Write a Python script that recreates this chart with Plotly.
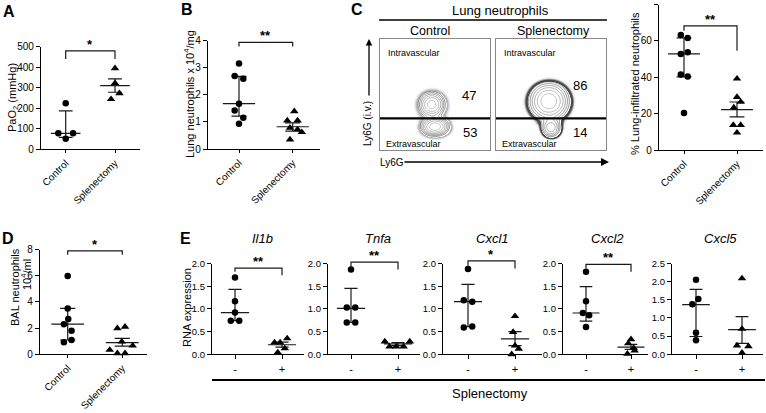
import numpy as np
import plotly.graph_objects as go

W, H = 766, 413
FONT = "Liberation Sans, Arial, sans-serif"

# ---------------- DATA ----------------
groups = ["Control", "Splenectomy"]

# Panel A: PaO2 (mmHg)
A_ctrl = [224, 78, 78, 52]
A_spl = [395, 322, 273, 244]
A_ctrl_stat = [78, 58, 187]      # centre, lower, upper
A_spl_stat = [310, 278, 343]

# Panel B: lung neutrophils x 10^4/mg
B_ctrl = [3.15, 2.69, 2.59, 1.67, 1.42, 1.15, 0.93]
B_spl = [1.39, 1.05, 1.05, 0.78, 0.72, 0.62, 0.35]
B_ctrl_stat = [1.67, 1.21, 2.68]
B_spl_stat = [0.82, 0.66, 0.96]

# Panel C (right): % lung-infiltrated neutrophils
C_ctrl = [63.2, 61.6, 52.8, 53.7, 41.5, 40.4, 20.4]
C_spl = [39.2, 29.1, 26.4, 23.3, 13.7, 13.7, 9.5]
C_ctrl_stat = [52.8, 40.2, 61.6]
C_spl_stat = [22.2, 18.2, 26.4]

# Panel C (flow): gate percentages
flow_ctrl_pct = ["47", "53"]
flow_spl_pct = ["86", "14"]

# Panel D: BAL neutrophils 10^4/ml
D_ctrl = [5.98, 3.5, 2.7, 2.3, 1.8, 0.92, 1.09]
D_spl = [1.98, 2.1, 0.96, 0.66, 0.33, 0.08, 0.08]
D_ctrl_stat = [2.31, 1.09, 3.5]
D_spl_stat = [0.89, 0.63, 1.22]

# Panel E: RNA expression
genes = ["Il1b", "Tnfa", "Cxcl1", "Cxcl2", "Cxcl5"]
E_ctrl = {
    "Il1b": [1.69, 1.17, 0.92, 0.74, 0.74],
    "Tnfa": [1.87, 1.03, 1.03, 0.70, 0.70],
    "Cxcl1": [1.88, 1.19, 1.16, 0.59, 0.61],
    "Cxcl2": [1.82, 1.17, 0.91, 0.86, 0.60],
    "Cxcl5": [2.05, 1.52, 1.38, 0.59, 0.39],
}
E_spl = {
    "Il1b": [0.26, 0.26, 0.35, 0.13, 0.04],
    "Tnfa": [0.28, 0.28, 0.17, 0.17, 0.17],
    "Cxcl1": [0.84, 0.49, 0.19, 0.12, 0.00],
    "Cxcl2": [0.33, 0.24, 0.08, 0.01, 0.14],
    "Cxcl5": [2.09, 0.70, 0.24, 0.22, 0.04],
}
E_ctrl_stat = {
    "Il1b": [0.92, 0.74, 1.43],
    "Tnfa": [1.01, 0.70, 1.45],
    "Cxcl1": [1.16, 0.61, 1.54],
    "Cxcl2": [0.91, 0.73, 1.49],
    "Cxcl5": [1.37, 0.49, 1.79],
}
E_spl_stat = {
    "Il1b": [0.21, 0.16, 0.27],
    "Tnfa": [0.23, 0.19, 0.26],
    "Cxcl1": [0.34, 0.19, 0.50],
    "Cxcl2": [0.16, 0.11, 0.22],
    "Cxcl5": [0.68, 0.30, 1.04],
}
E_xlabels = ["-", "+"]

# ---------------- LAYOUT HELPERS ----------------
def xd(a, b):
    return [a / W, b / W]


def yd(top, bot):
    return [1 - bot / H, 1 - top / H]


def pann(text, x, y, size=11, angle=0, bold=False, italic=False, xanchor="center", yanchor="middle"):
    t = text
    if bold:
        t = "<b>" + t + "</b>"
    if italic:
        t = "<i>" + t + "</i>"
    return dict(text=t, x=x / W, y=1 - y / H, xref="paper", yref="paper", showarrow=False,
                textangle=angle, xanchor=xanchor, yanchor=yanchor,
                font=dict(family=FONT, size=size, color="black"))


fig = go.Figure()
layout = {}
annotations = []
shapes = []
LINE = "#1a1a1a"

# jitter (style) for points
jit = {
    "A": ([0, -0.15, 0.15, 0], [0, 0, 0.09, -0.08]),
    "B": ([0, -0.08, 0.08, 0, -0.08, 0.08, 0], [0.03, -0.1, 0.09, -0.05, 0.09, 0.17, -0.05]),
    "C": ([-0.06, 0.07, -0.06, 0.07, -0.06, 0.07, 0], [0, 0, 0.07, -0.06, -0.07, 0.07, 0]),
    "D": ([0, 0, 0.01, -0.07, 0.07, -0.07, 0.07], [-0.09, 0.05, -0.01, 0.19, -0.23, -0.09, 0.05]),
    "Il1b": ([0, 0, 0, -0.09, 0.09], [-0.16, -0.04, 0.11, 0.06, -0.09]),
    "Tnfa": ([0, -0.09, 0.09, -0.09, 0.09], [-0.28, 0.25, -0.18, -0.04, 0.12]),
    "Cxcl1": ([0, -0.09, 0.09, -0.09, 0.09], [0, -0.04, 0, 0.08, -0.07]),
    "Cxcl2": ([0, 0, -0.07, 0.07, 0], [0, -0.06, 0.08, -0.08, 0.06]),
    "Cxcl5": ([0, 0.05, -0.08, 0, 0], [0, 0, -0.11, 0.14, 0]),
}

panels = [
    dict(key="A", left=41, c0=65.7, c1=115, right=140, top=46.7, bot=149.3, yr=[0, 500],
         tv=[0, 100, 200, 300, 400, 500], tt=None, ctrl=A_ctrl, spl=A_spl,
         cs=A_ctrl_stat, ss=A_spl_stat, br=(440, 480, 480, 440), star="*",
         xt=groups, angle=-45),
    dict(key="B", left=208, c0=239, c1=292.7, right=320, top=40.5, bot=149, yr=[0, 4],
         tv=[0, 1, 2, 3, 4], tt=None, ctrl=B_ctrl, spl=B_spl,
         cs=B_ctrl_stat, ss=B_spl_stat, br=(3.78, 3.93, 3.93, 3.78), star="**",
         xt=groups, angle=-45),
    dict(key="C", left=659, c0=684, c1=737, right=763, top=4.5, bot=150, yr=[0, 80],
         tv=[0, 20, 40, 60, 80], tt=None, ctrl=C_ctrl, spl=C_spl,
         cs=C_ctrl_stat, ss=C_spl_stat, br=(65.6, 68.3, 68.3, 54.6), star="**",
         xt=groups, angle=-45),
    dict(key="D", left=40, c0=67.7, c1=122.3, right=147, top=249.5, bot=354.3, yr=[0, 8],
         tv=[0, 2, 4, 6, 8], tt=None, ctrl=D_ctrl, spl=D_spl,
         cs=D_ctrl_stat, ss=D_spl_stat, br=(7.6, 7.9, 7.9, 7.6), star="*",
         xt=groups, angle=-45),
]

E_geo = {
    "Il1b": (212, 235, 282, 304, (1.82, 1.90, 1.90, 1.74), "**"),
    "Tnfa": (328, 351, 398, 420, (1.92, 2.03, 2.03, 1.87), "**"),
    "Cxcl1": (443, 468, 515, 542, (1.95, 2.06, 2.06, 1.89), "*"),
    "Cxcl2": (563, 586, 631, 648, (1.89, 1.98, 1.98, 1.82), "**"),
    "Cxcl5": (672, 696, 742, 763, None, None),
}
for g in genes:
    left, c0, c1, right, br, star = E_geo[g]
    if g == "Cxcl5":
        yr, tv = [0, 2.5], [0, 0.5, 1.0, 1.5, 2.0, 2.5]
    else:
        yr, tv = [0, 2.0], [0, 0.5, 1.0, 1.5, 2.0]
    panels.append(dict(key=g, left=left, c0=c0, c1=c1, right=right, top=263.5, bot=354.3,
                       yr=yr, tv=tv, tt=["%.1f" % v for v in tv], ctrl=E_ctrl[g], spl=E_spl[g],
                       cs=E_ctrl_stat[g], ss=E_spl_stat[g], br=br, star=star,
                       xt=E_xlabels, angle=0, gene=True))

for i, p in enumerate(panels, start=1):
    xa = "x" if i == 1 else "x%d" % i
    ya = "y" if i == 1 else "y%d" % i
    span = p["c1"] - p["c0"]
    xr = [(p["left"] - p["c0"]) / span, (p["right"] - p["c0"]) / span]
    gene = p.get("gene", False)
    tfs = 9.5 if gene else 10
    xdict = dict(
        domain=xd(p["left"], p["right"]), range=xr, anchor=ya, automargin=False,
        showline=True, linecolor="black", linewidth=1.3, showgrid=False, zeroline=False,
        ticks="outside", ticklen=4 if gene else 3, tickwidth=1.2, tickcolor="black",
        tickvals=[0, 1], ticktext=p["xt"], tickangle=p["angle"],
        tickfont=dict(family=FONT, size=11 if gene else 10, color="black"), fixedrange=True)
    layout["xaxis" if i == 1 else "xaxis%d" % i] = xdict
    ydict = dict(
        domain=yd(p["top"], p["bot"]), range=p["yr"], anchor=xa, automargin=False,
        showline=True, linecolor="black", linewidth=1.3, showgrid=False, zeroline=False,
        ticks="outside", ticklen=4, tickwidth=1.2, tickcolor="black",
        tickvals=p["tv"], tickfont=dict(family=FONT, size=tfs, color="black"), fixedrange=True)
    if p["tt"] is not None:
        ydict["ticktext"] = p["tt"]
    layout["yaxis" if i == 1 else "yaxis%d" % i] = ydict

    jc, js = jit[p["key"]]
    for gi, vals, jj, sym, stat in ((0, p["ctrl"], jc, "circle", p["cs"]),
                                    (1, p["spl"], js, "triangle-up", p["ss"])):
        c, lo, up = stat
        fig.add_trace(go.Scatter(
            x=[gi - 0.3, gi + 0.3, None, gi - 0.14, gi + 0.14, None, gi, gi, None, gi - 0.14, gi + 0.14],
            y=[c, c, None, up, up, None, lo, up, None, lo, lo],
            mode="lines", line=dict(color=LINE, width=1.2), xaxis=xa, yaxis=ya,
            hoverinfo="skip", showlegend=False, cliponaxis=False))
        fig.add_trace(go.Scatter(
            x=[gi + d for d in jj], y=vals, mode="markers",
            marker=dict(symbol=sym, size=6.5 if sym == "circle" else 7.5, color="black",
                        line=dict(width=0)),
            xaxis=xa, yaxis=ya, showlegend=False, cliponaxis=False))
    if p["br"] is not None:
        # significance bracket, placed on the y-axis domain scale so it may rise above the axis top
        b = [v / p["yr"][1] for v in p["br"]]
        shapes.append(dict(type="path", xref=xa, yref=ya + " domain",
                           path="M 0,%f L 0,%f L 1,%f L 1,%f" % (b[0], b[1], b[2], b[3]),
                           line=dict(color=LINE, width=1.2)))
        annotations.append(dict(text="<b>" + p["star"] + "</b>", x=0.5, y=b[1], xref=xa,
                                yref=ya + " domain", showarrow=False, yanchor="bottom", yshift=-3,
                                font=dict(family=FONT, size=13, color="black")))

# ---------------- FLOW CYTOMETRY PANELS ----------------
gate_y = 0.285
ctrl_blobs = [(0.47, 0.41, 0.057, 0.055, 1.0), (0.50, 0.21, 0.060, 0.040, 1.15),
              (0.47, 0.36, 0.15, 0.20, 0.03)]
spl_blobs = [(0.48, 0.44, 0.085, 0.080, 1.0), (0.50, 0.20, 0.045, 0.045, 0.45),
             (0.48, 0.40, 0.15, 0.16, 0.03)]
flow_boxes = [(380, 490, ctrl_blobs, flow_ctrl_pct, [(0.81, 0.49), (0.82, 0.16)], "#b8b8b8"),
              (496, 606, spl_blobs, flow_spl_pct, [(0.76, 0.58), (0.76, 0.155)], "#4a4a4a")]
gx = np.linspace(0, 1, 110)
gy = np.linspace(0, 1, 110)
GX, GY = np.meshgrid(gx, gy)
for k, (l, r, blobs, pct, pos, ringc) in enumerate(flow_boxes):
    i = len(panels) + 1 + k
    xa, ya = "x%d" % i, "y%d" % i
    z = np.zeros_like(GX)
    for cx, cy, sx, sy, w in blobs:
        z += w * np.exp(-((GX - cx) ** 2 / (2 * sx ** 2) + (GY - cy) ** 2 / (2 * sy ** 2)))
    z = np.log10(z / z.max() + 1e-6)
    # outer speckled ring of sparse events
    fig.add_trace(go.Heatmap(x=gx, y=gy, z=z, xaxis=xa, yaxis=ya, showscale=False, zmin=-2, zmax=0,
                             zsmooth="best", hoverinfo="skip",
                             colorscale=[[0, "#ffffff"], [0.18, "#ffffff"], [0.28, "#ececec"],
                                         [0.38, ringc], [0.45, ringc], [0.48, "#ffffff"],
                                         [1, "#ffffff"]]))
    fig.add_trace(go.Contour(x=gx, y=gy, z=z, xaxis=xa, yaxis=ya, showscale=False,
                             contours=dict(start=-1.0, end=-0.04, size=0.17, coloring="lines"),
                             colorscale=[[0, "#444444"], [1, "#9a9a9a"]],
                             line=dict(width=0.6, smoothing=1.2), hoverinfo="skip"))
    fig.add_trace(go.Scatter(x=[0, 1], y=[gate_y, gate_y], mode="lines",
                             line=dict(color="black", width=2.2), xaxis=xa, yaxis=ya,
                             hoverinfo="skip", showlegend=False))
    box_ax = dict(showline=True, mirror=True, linecolor="#888888", linewidth=1, showgrid=False,
                  zeroline=False, showticklabels=False, ticks="", range=[0, 1], fixedrange=True,
                  automargin=False)
    layout["xaxis%d" % i] = dict(box_ax, domain=xd(l, r), anchor=ya)
    layout["yaxis%d" % i] = dict(box_ax, domain=yd(39, 150), anchor=xa)
    annotations.append(dict(text="Intravascular", x=0.05, y=0.875, xref=xa, yref=ya, showarrow=False,
                            xanchor="left", font=dict(family=FONT, size=9, color="black")))
    annotations.append(dict(text="Extravascular", x=0.04, y=0.05, xref=xa, yref=ya, showarrow=False,
                            xanchor="left", font=dict(family=FONT, size=9, color="black")))
    for t, (px_, py_) in zip(pct, pos):
        annotations.append(dict(text=t, x=px_, y=py_, xref=xa, yref=ya, showarrow=False,
                                font=dict(family=FONT, size=13, color="black")))

# ---------------- TEXT / DECORATION ----------------
annotations += [
    pann("A", 9, 11, 16, bold=True),
    pann("B", 187, 9, 16, bold=True),
    pann("C", 357, 9, 16, bold=True),
    pann("D", 8, 238, 16, bold=True),
    pann("E", 185, 238, 16, bold=True),
    pann("PaO<sub>2</sub> (mmHg)", 13, 98, 11, angle=-90),
    pann("Lung neutrophils x 10<sup>4</sup>/mg", 189, 94, 11, angle=-90),
    pann("% Lung-infiltrated neutrophils", 635, 84, 11, angle=-90),
    pann("BAL neutrophils", 15, 287, 11, angle=-90),
    pann("10<sup>4</sup>/ml", 26, 275, 11, angle=-90),
    pann("RNA expression", 187, 308, 11, angle=-90),
    pann("Lung neutrophils", 500, 10, 13),
    pann("Control", 430, 31, 12.5),
    pann("Splenectomy", 553, 31, 12.5),
    pann("Ly6G (i.v.)", 367, 124, 10, angle=-90),
    pann("Ly6G", 392, 162, 10),
    pann("Splenectomy", 490, 393, 13),
]
for g, xc in zip(genes, [262, 378, 492, 607, 720]):
    annotations.append(pann(g, xc, 238, 13, italic=True))

# arrows
annotations.append(dict(x=369 / W, y=1 - 39 / H, xref="paper", yref="paper", ax=0, ay=58,
                        showarrow=True, arrowhead=2, arrowsize=1, arrowwidth=1.3, text="",
                        arrowcolor="black"))
annotations.append(dict(x=609 / W, y=1 - 162 / H, xref="paper", yref="paper", ax=-206, ay=0,
                        showarrow=True, arrowhead=2, arrowsize=1, arrowwidth=1.6, text="",
                        arrowcolor="black"))

shapes.append(dict(type="line", xref="paper", yref="paper", x0=379 / W, x1=607 / W,
                   y0=1 - 20 / H, y1=1 - 20 / H, line=dict(color="black", width=1.6)))
shapes.append(dict(type="line", xref="paper", yref="paper", x0=212 / W, x1=765 / W,
                   y0=1 - 380 / H, y1=1 - 380 / H, line=dict(color="black", width=2)))

layout.update(dict(width=W, height=H, margin=dict(l=0, r=0, t=0, b=0, pad=0),
                   paper_bgcolor="white", plot_bgcolor="white", showlegend=False,
                   annotations=annotations, shapes=shapes,
                   font=dict(family=FONT, color="black")))
fig.update_layout(**layout)
fig.write_html("out.html", config={"displayModeBar": False},
               post_script="document.body.style.margin='0px';document.body.style.overflow='hidden';")
